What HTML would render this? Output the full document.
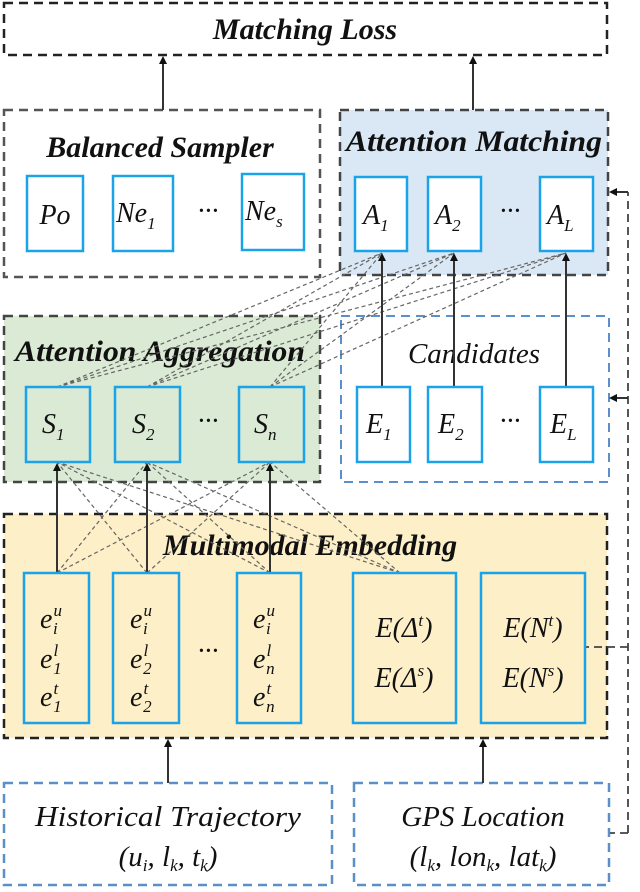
<!DOCTYPE html>
<html><head><meta charset="utf-8"><style>
html,body{margin:0;padding:0;background:#fff;}
svg text{font-family:"Liberation Serif",serif;font-style:italic;}
.t{font-weight:bold;font-size:30px;fill:#111;}
.l{font-size:28px;fill:#111;}
.m{font-size:29px;fill:#111;}
.s{font-size:17px;fill:#111;}
</style></head><body>
<svg width="640" height="887" viewBox="0 0 640 887" xmlns="http://www.w3.org/2000/svg">
<defs>
<marker id="ah" markerWidth="8" markerHeight="8" refX="6" refY="4" orient="auto" markerUnits="userSpaceOnUse">
<path d="M0,0 L8,4 L0,8 z" fill="#111"/></marker>
</defs>
<rect x="4" y="3" width="603" height="52" fill="#fff" stroke="#222" stroke-width="2.5" stroke-dasharray="9,6"/>
<rect x="4" y="110" width="316" height="167" fill="#fff" stroke="#555" stroke-width="2.5" stroke-dasharray="9,6"/>
<rect x="340" y="110" width="268" height="165" fill="#dae8f6" stroke="#444" stroke-width="2.5" stroke-dasharray="9,6"/>
<rect x="4" y="316" width="316" height="166" fill="#dbead5" stroke="#444" stroke-width="2.5" stroke-dasharray="9,6"/>
<rect x="341" y="316" width="268" height="166" fill="#fff" stroke="#5b8fc8" stroke-width="2" stroke-dasharray="9,6"/>
<rect x="4" y="514" width="603" height="224" fill="#fdefc8" stroke="#222" stroke-width="2.5" stroke-dasharray="9,6"/>
<rect x="4" y="783" width="328" height="102" fill="#fff" stroke="#5b8fc8" stroke-width="2.5" stroke-dasharray="9,6"/>
<rect x="354" y="783" width="255" height="102" fill="#fff" stroke="#5b8fc8" stroke-width="2.5" stroke-dasharray="9,6"/>

<text x="305" y="39" class="t" text-anchor="middle">Matching Loss</text>
<text x="160" y="157" class="t" text-anchor="middle">Balanced Sampler</text>
<text x="474" y="151" class="t" text-anchor="middle" textLength="256" lengthAdjust="spacingAndGlyphs">Attention Matching</text>
<text x="160" y="361" class="t" text-anchor="middle" textLength="290" lengthAdjust="spacingAndGlyphs">Attention Aggregation</text>
<text x="474" y="363" class="m" text-anchor="middle">Candidates</text>
<text x="310" y="555" class="t" text-anchor="middle">Multimodal Embedding</text>
<text x="168" y="826" class="m" text-anchor="middle" textLength="266" lengthAdjust="spacingAndGlyphs">Historical Trajectory</text>
<text x="168" y="866" class="m" text-anchor="middle">(u<tspan class="s" dy="5">i</tspan><tspan dy="-5">, l</tspan><tspan class="s" dy="5">k</tspan><tspan dy="-5">, t</tspan><tspan class="s" dy="5">k</tspan><tspan dy="-5">)</tspan></text>
<text x="483" y="826" class="m" text-anchor="middle">GPS Location</text>
<text x="483" y="866" class="m" text-anchor="middle">(l<tspan class="s" dy="5">k</tspan><tspan dy="-5">, lon</tspan><tspan class="s" dy="5">k</tspan><tspan dy="-5">, lat</tspan><tspan class="s" dy="5">k</tspan><tspan dy="-5">)</tspan></text>

<g stroke="#666" stroke-width="1.2" stroke-dasharray="4,3" fill="none">
<path d="M57,387 L382,253 M57,387 L454,253 M57,387 L566,253 M147,387 L382,253 M147,387 L454,253 M147,387 L566,253 M270,387 L382,253 M270,387 L454,253 M270,387 L566,253"/>
<path d="M57,573 L147,462 M57,573 L270,462 M147,573 L57,462 M147,573 L270,462 M270,573 L57,462 M270,573 L147,462 M400,573 L57,462 M400,573 L147,462 M400,573 L270,462"/>
<path d="M628,833 L628,192 M628,647 L586,647 M628,833 L610,833" stroke="#444" stroke-width="1.8" stroke-dasharray="8,5"/>
</g>
<g stroke="#333" stroke-width="2" marker-end="url(#ah)">
<line x1="163" y1="110" x2="163" y2="58"/>
<line x1="473" y1="110" x2="473" y2="58"/>
<line x1="382" y1="387" x2="382" y2="255"/>
<line x1="454" y1="387" x2="454" y2="255"/>
<line x1="566" y1="387" x2="566" y2="255"/>
<line x1="57" y1="573" x2="57" y2="465"/>
<line x1="147" y1="573" x2="147" y2="465"/>
<line x1="270" y1="573" x2="270" y2="465"/>
<line x1="168" y1="783" x2="168" y2="741"/>
<line x1="483" y1="783" x2="483" y2="741"/>
<line x1="628" y1="192" x2="611" y2="192"/>
<line x1="628" y1="398" x2="611" y2="398"/>
</g>

<g fill="#fff" stroke="#1aa3e8" stroke-width="2.5">
<rect x="27" y="176" width="56" height="75"/>
<rect x="113" y="176" width="60" height="75"/>
<rect x="242" y="174" width="62" height="76"/>
<rect x="355" y="177" width="52" height="74"/>
<rect x="428" y="177" width="53" height="74"/>
<rect x="540" y="177" width="53" height="74"/>
<rect x="357" y="387" width="53" height="75"/>
<rect x="428" y="387" width="54" height="75"/>
<rect x="540" y="387" width="53" height="75"/>
</g>
<g stroke="#1aa3e8" stroke-width="2.5">
<rect x="26" y="387" width="64" height="75" fill="#dbead5"/>
<rect x="115" y="387" width="65" height="75" fill="#dbead5"/>
<rect x="239" y="387" width="65" height="75" fill="#dbead5"/>
<rect x="24" y="573" width="65" height="150" fill="#fdefc8"/>
<rect x="113" y="573" width="66" height="150" fill="#fdefc8"/>
<rect x="237" y="573" width="64" height="150" fill="#fdefc8"/>
<rect x="353" y="573" width="103" height="150" fill="#fdefc8"/>
<rect x="481" y="573" width="104" height="150" fill="#fdefc8"/>
</g>

<g>
<text x="55" y="224" class="l" text-anchor="middle">Po</text>
<text x="116" y="222" class="l">Ne<tspan class="s" dy="7">1</tspan></text>
<text x="245" y="220" class="l">Ne<tspan class="s" dy="7">s</tspan></text>
<text x="208" y="220" class="l" text-anchor="middle">···</text>
<text x="363" y="224" class="l">A<tspan class="s" dy="7">1</tspan></text>
<text x="435" y="224" class="l">A<tspan class="s" dy="7">2</tspan></text>
<text x="547" y="224" class="l">A<tspan class="s" dy="7">L</tspan></text>
<text x="510" y="220" class="l" text-anchor="middle">···</text>
<text x="42" y="433" class="l">S<tspan class="s" dy="7">1</tspan></text>
<text x="132" y="433" class="l">S<tspan class="s" dy="7">2</tspan></text>
<text x="254" y="433" class="l">S<tspan class="s" dy="7">n</tspan></text>
<text x="208" y="430" class="l" text-anchor="middle">···</text>
<text x="366" y="433" class="l">E<tspan class="s" dy="7">1</tspan></text>
<text x="438" y="433" class="l">E<tspan class="s" dy="7">2</tspan></text>
<text x="550" y="433" class="l">E<tspan class="s" dy="7">L</tspan></text>
<text x="510" y="430" class="l" text-anchor="middle">···</text>
<text x="208" y="660" class="l" text-anchor="middle">···</text>
</g>
<g>
<text x="40" y="628" class="l">e<tspan class="s" dx="1" dy="-12">u</tspan><tspan class="s" dx="-9" dy="18">i</tspan></text>
<text x="40" y="668" class="l">e<tspan class="s" dx="1" dy="-12">l</tspan><tspan class="s" dx="-5" dy="18">1</tspan></text>
<text x="40" y="706" class="l">e<tspan class="s" dx="1" dy="-12">t</tspan><tspan class="s" dx="-5" dy="18">1</tspan></text>
<text x="130" y="628" class="l">e<tspan class="s" dx="1" dy="-12">u</tspan><tspan class="s" dx="-9" dy="18">i</tspan></text>
<text x="130" y="668" class="l">e<tspan class="s" dx="1" dy="-12">l</tspan><tspan class="s" dx="-5" dy="18">2</tspan></text>
<text x="130" y="706" class="l">e<tspan class="s" dx="1" dy="-12">t</tspan><tspan class="s" dx="-5" dy="18">2</tspan></text>
<text x="253" y="628" class="l">e<tspan class="s" dx="1" dy="-12">u</tspan><tspan class="s" dx="-9" dy="18">i</tspan></text>
<text x="253" y="668" class="l">e<tspan class="s" dx="1" dy="-12">l</tspan><tspan class="s" dx="-5" dy="18">n</tspan></text>
<text x="253" y="706" class="l">e<tspan class="s" dx="1" dy="-12">t</tspan><tspan class="s" dx="-5" dy="18">n</tspan></text>
<text x="404" y="637" class="l" text-anchor="middle">E(Δ<tspan class="s" dy="-11">t</tspan><tspan dy="11">)</tspan></text>
<text x="404" y="687" class="l" text-anchor="middle">E(Δ<tspan class="s" dy="-11">s</tspan><tspan dy="11">)</tspan></text>
<text x="533" y="637" class="l" text-anchor="middle">E(N<tspan class="s" dy="-11">t</tspan><tspan dy="11">)</tspan></text>
<text x="533" y="687" class="l" text-anchor="middle">E(N<tspan class="s" dy="-11">s</tspan><tspan dy="11">)</tspan></text>
</g>
</svg>
</body></html>
